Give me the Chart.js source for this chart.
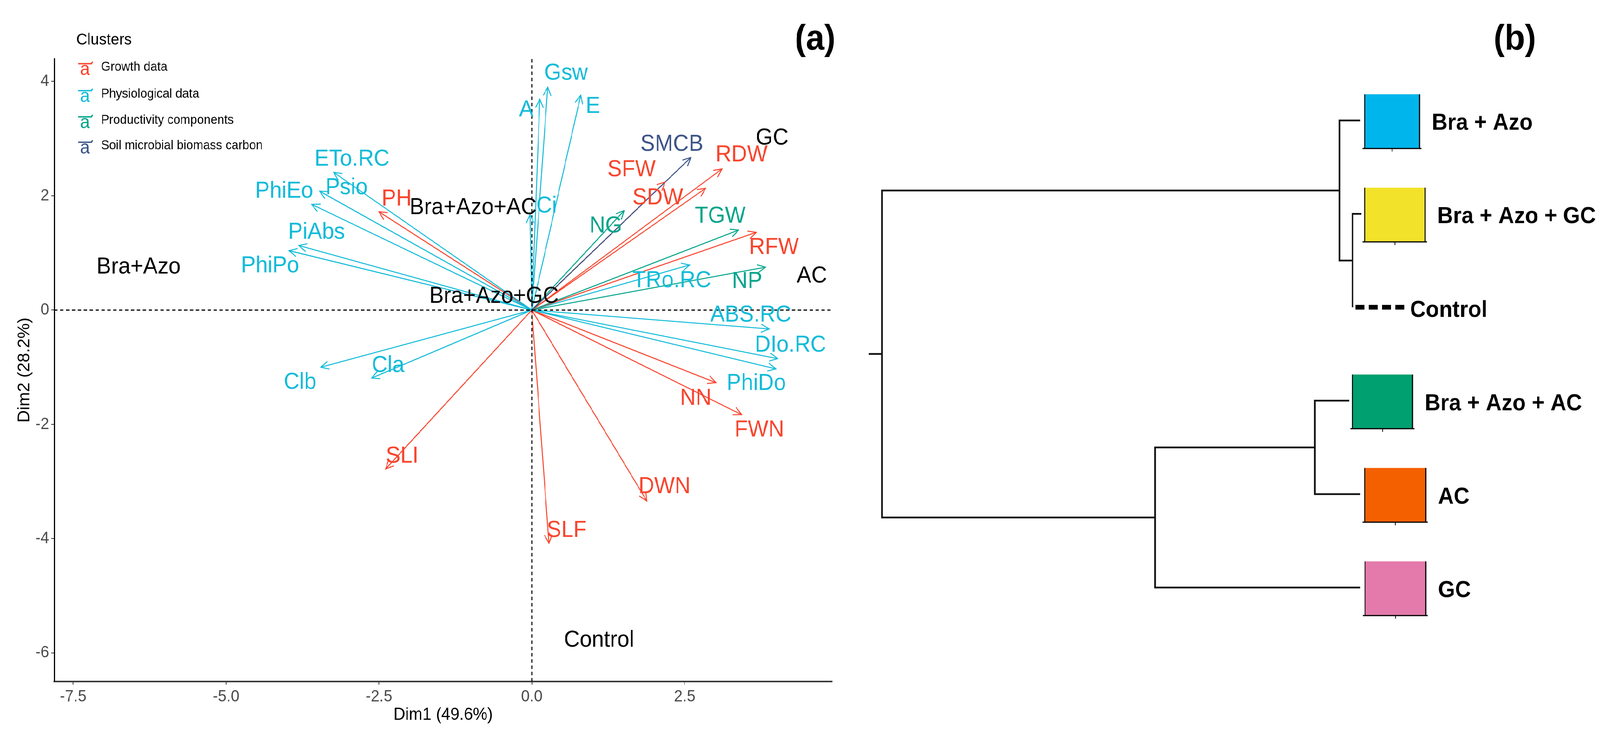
<!DOCTYPE html>
<html>
<head>
<meta charset="utf-8">
<script src="https://cdn.jsdelivr.net/npm/chart.js@4.4.1/dist/chart.umd.min.js"></script>
<style>
html,body{margin:0;padding:0;background:#fff;overflow:hidden}
#wrap{position:absolute;left:0;top:0;width:4338px;height:1886px;background:#fff;transform-origin:0 0}
canvas{position:absolute;top:0}
</style>
</head>
<body>
<div id="wrap">
<canvas id="ca" width="2300" height="1886" style="left:0;width:2300px;height:1886px"></canvas>
<canvas id="cb" width="2038" height="1886" style="left:2300px;width:2038px;height:1886px"></canvas>
</div>
<script>
// ---------------- DATA: panel (a) PCA biplot ----------------
const groupNames = ['Growth data', 'Physiological data', 'Productivity components', 'Soil microbial biomass carbon'];
const varNames = ['Gsw','A','E','Ci','SMCB','RDW','SFW','SDW','NG','TGW','RFW','NP','TRo.RC','ABS.RC','DIo.RC','PhiDo','NN','FWN','DWN','SLF','SLI','Cla','Clb','PhiPo','PiAbs','PhiEo','Psio','ETo.RC','PH'];
const varGroup = [1,1,1,1,3,0,0,0,2,2,0,2,1,1,1,1,0,0,0,0,0,1,1,1,1,1,1,1,0];
const dim1 = [0.26,0.13,0.80,-0.03,2.60,3.11,2.18,2.84,1.51,3.38,3.67,3.82,2.58,3.88,4.02,3.99,3.01,3.43,1.88,0.28,-2.39,-2.62,-3.45,-3.97,-3.81,-3.60,-3.47,-3.24,-2.50];
const dim2 = [3.90,3.69,3.76,1.67,2.67,2.47,2.24,2.13,1.74,1.40,1.36,0.75,0.79,-0.33,-0.85,-1.03,-1.27,-1.83,-3.34,-4.08,-2.78,-1.19,-1.00,1.04,1.13,1.85,2.08,2.41,1.72];
const labelDim1 = [0.56,-0.09,1.00,0.24,2.29,3.43,1.63,2.06,1.21,3.08,3.96,3.52,2.29,3.58,4.23,3.67,2.68,3.72,2.17,0.57,-2.12,-2.35,-3.79,-4.28,-3.52,-4.05,-3.03,-2.94,-2.21];
const labelDim2 = [4.14,3.50,3.56,1.82,2.90,2.71,2.45,1.96,1.47,1.64,1.09,0.50,0.51,-0.09,-0.62,-1.29,-1.55,-2.10,-3.09,-3.86,-2.56,-0.97,-1.27,0.77,1.36,2.08,2.14,2.64,1.94];
const indNames = ['Bra+Azo','Bra+Azo+AC','Bra+Azo+GC','GC','AC','Control'];
const indDim1 = [-6.43,-0.96,-0.62,3.93,4.58,1.10];
const indDim2 = [0.75,1.79,0.24,3.01,0.59,-5.78];
const xTicks = [-7.5,-5,-2.5,0,2.5];
const yTicks = [-6,-4,-2,0,2,4];
const xRange = [-7.81, 4.91];
const yRange = [-6.50, 4.40];

// ---------------- DATA: panel (b) dendrogram ----------------
const leafNames = ['Bra + Azo','Bra + Azo + GC','Control','Bra + Azo + AC','AC','GC'];
// hclust-style merges: negative = leaf (1-based), positive = earlier merge (1-based)
const mergeA = [-2,-1,-4,3,2];
const mergeB = [-3,1,-5,-6,4];
const mergeHeight = [0.21,0.56,1.23,5.56,12.97];

// ---------------- STYLE ----------------
const groupColors = ['#F8452E','#12BBD9','#00A48A','#3C5488'];
const leafBoxColor = ['#00B5EC','#F3E22A',null,'#00A070','#F46000','#E47AAB'];
const leafEnd = [0,-0.03,0.21,0.30,0,0];
const boxLeft = [-0.12,-0.12,null,0.21,-0.12,-0.13];
const boxRight = [-1.61,-1.76,null,-1.42,-1.78,-1.78];
const FONT = '"Liberation Sans", Arial, Helvetica, sans-serif';

Chart.defaults.font.family = FONT;

// fit the 4338x1886 layout into the actual viewport
(function fit() {
  const sx = window.innerWidth / 4338, sy = window.innerHeight / 1886;
  document.getElementById('wrap').style.transform = 'scale(' + sx + ',' + sy + ')';
})();

// ---------------- Panel (a) ----------------
const pcaDatasets = [];
pcaDatasets.push({data:[{x:xRange[0],y:0},{x:xRange[1],y:0}], borderColor:'#000', borderWidth:3, borderDash:[9,7]});
pcaDatasets.push({data:[{x:0,y:yRange[0]},{x:0,y:yRange[1]}], borderColor:'#000', borderWidth:3, borderDash:[9,7]});
for (let i = 0; i < varNames.length; i++) {
  pcaDatasets.push({label: varNames[i], data:[{x:0,y:0},{x:dim1[i],y:dim2[i]}], borderColor: groupColors[varGroup[i]], borderWidth:2.6});
}

const pcaDecor = {
  id: 'pcaDecor',
  afterDatasetsDraw(chart) {
    const {ctx, scales:{x, y}} = chart;
    ctx.save();
    const x0 = x.getPixelForValue(0), y0 = y.getPixelForValue(0);
    for (let i = 0; i < varNames.length; i++) {
      const x1 = x.getPixelForValue(dim1[i]), y1 = y.getPixelForValue(dim2[i]);
      const ang = Math.atan2(y1 - y0, x1 - x0);
      const L = 24, a = Math.PI / 7;
      ctx.strokeStyle = groupColors[varGroup[i]];
      ctx.lineWidth = 2.6;
      ctx.beginPath();
      ctx.moveTo(x1 - L * Math.cos(ang - a), y1 - L * Math.sin(ang - a));
      ctx.lineTo(x1, y1);
      ctx.lineTo(x1 - L * Math.cos(ang + a), y1 - L * Math.sin(ang + a));
      ctx.stroke();
    }
    ctx.font = '59px ' + FONT;
    ctx.textAlign = 'center';
    ctx.textBaseline = 'middle';
    for (let i = 0; i < varNames.length; i++) {
      ctx.fillStyle = groupColors[varGroup[i]];
      ctx.fillText(varNames[i], x.getPixelForValue(labelDim1[i]), y.getPixelForValue(labelDim2[i]));
    }
    ctx.fillStyle = '#000';
    for (let i = 0; i < indNames.length; i++) {
      ctx.fillText(indNames[i], x.getPixelForValue(indDim1[i]), y.getPixelForValue(indDim2[i]));
    }
    // legend
    ctx.textAlign = 'left';
    ctx.fillStyle = '#000';
    ctx.font = '41px ' + FONT;
    ctx.fillText('Clusters', 207, 103);
    const rows = [172, 241, 308, 373];
    for (let g = 0; g < groupNames.length; g++) {
      const ry = rows[g];
      ctx.fillStyle = groupColors[g];
      ctx.strokeStyle = groupColors[g];
      ctx.font = '48px ' + FONT;
      ctx.textAlign = 'center';
      ctx.textBaseline = 'alphabetic';
      ctx.fillText('a', 230, ry + 20);
      ctx.lineWidth = 3.5;
      ctx.beginPath();
      ctx.moveTo(212, ry - 9); ctx.lineTo(248, ry - 9); ctx.lineTo(251, ry - 14);
      ctx.stroke();
      ctx.fillStyle = '#000';
      ctx.font = '33px ' + FONT;
      ctx.textAlign = 'left';
      ctx.textBaseline = 'middle';
      ctx.fillText(groupNames[g], 274, ry);
    }
    ctx.font = 'bold 90px ' + FONT;
    ctx.textAlign = 'center';
    ctx.fillStyle = '#000';
    ctx.fillText('(a)', 2210, 102);
    ctx.restore();
  }
};

new Chart(document.getElementById('ca'), {
  type: 'scatter',
  data: {datasets: pcaDatasets},
  options: {
    responsive: false, devicePixelRatio: 1, animation: false,
    layout: {padding: {left: 0, right: 44, top: 150, bottom: 0}},
    datasets: {scatter: {showLine: true, pointRadius: 0, pointHoverRadius: 0, tension: 0}},
    plugins: {legend: {display: false}, tooltip: {enabled: false}},
    scales: {
      x: {
        type: 'linear', min: xRange[0], max: xRange[1], position: 'bottom',
        afterBuildTicks: s => { s.ticks = xTicks.map(v => ({value: v})); },
        afterFit: s => { s.height = 142; },
        ticks: {font: {size: 42}, color: '#4D4D4D', padding: 6, callback: v => v.toFixed(1)},
        grid: {display: true, drawOnChartArea: false, drawTicks: true, tickLength: 8, color: '#333', lineWidth: 2},
        border: {display: true, color: '#3a3a3a', width: 4},
        title: {display: true, text: 'Dim1 (49.6%)', color: '#000', font: {size: 44}, padding: {top: 0, bottom: 30}}
      },
      y: {
        type: 'linear', min: yRange[0], max: yRange[1], position: 'left',
        afterBuildTicks: s => { s.ticks = yTicks.map(v => ({value: v})); },
        afterFit: s => { s.width = 147; },
        ticks: {font: {size: 42}, color: '#4D4D4D', padding: 6, callback: v => String(v)},
        grid: {display: true, drawOnChartArea: false, drawTicks: true, tickLength: 8, color: '#333', lineWidth: 2},
        border: {display: true, color: '#000', width: 3},
        title: {display: true, text: 'Dim2 (28.2%)', color: '#000', font: {size: 44}, padding: {top: 40, bottom: 0}}
      }
    }
  },
  plugins: [pcaDecor]
});

// ---------------- Panel (b) ----------------
const mergeY = [];
function nodePos(ref) {
  if (ref < 0) return {y: -ref, h: leafEnd[-ref - 1]};
  return {y: mergeY[ref - 1], h: mergeHeight[ref - 1]};
}
const dendroDatasets = [];
for (let k = 0; k < mergeHeight.length; k++) {
  const pA = nodePos(mergeA[k]), pB = nodePos(mergeB[k]);
  const H = mergeHeight[k];
  mergeY[k] = (pA.y + pB.y) / 2;
  dendroDatasets.push({data: [{x: pA.h, y: pA.y}, {x: H, y: pA.y}, {x: H, y: pB.y}, {x: pB.h, y: pB.y}], borderColor: '#111', borderWidth: 4.5});
}
const rootY = mergeY[mergeY.length - 1];
const rootH = mergeHeight[mergeHeight.length - 1];
dendroDatasets.push({data: [{x: rootH, y: rootY}, {x: rootH + 0.36, y: rootY}], borderColor: '#111', borderWidth: 4.5});
// Control leaf drawn dotted
dendroDatasets.push({data: [{x: 0.13, y: 3}, {x: -1.20, y: 3}], borderColor: '#000', borderWidth: 12, borderDash: [24, 12], borderCapStyle: 'butt'});

const dendroDecor = {
  id: 'dendroDecor',
  afterDatasetsDraw(chart) {
    const {ctx, scales: {x, y}} = chart;
    ctx.save();
    for (let i = 0; i < leafNames.length; i++) {
      const leafIdx = i + 1;
      let textX;
      if (leafBoxColor[i]) {
        const l = x.getPixelForValue(boxLeft[i]), r = x.getPixelForValue(boxRight[i]);
        const t = y.getPixelForValue(leafIdx - 0.28), b = y.getPixelForValue(leafIdx + 0.30);
        ctx.fillStyle = leafBoxColor[i];
        ctx.fillRect(l, t, r - l, b - t);
        ctx.strokeStyle = '#000';
        ctx.lineWidth = 3;
        ctx.beginPath();
        ctx.moveTo(l, t); ctx.lineTo(l, b);
        ctx.moveTo(r, t); ctx.lineTo(r, b);
        ctx.moveTo(l - 6, b); ctx.lineTo(r + 5, b);
        ctx.stroke();
        ctx.lineWidth = 2;
        ctx.beginPath();
        ctx.moveTo((l + r) / 2, b); ctx.lineTo((l + r) / 2, b + 8);
        ctx.stroke();
        textX = r + 33;
      } else {
        textX = x.getPixelForValue(-1.20) + 15;
      }
      ctx.fillStyle = '#000';
      ctx.font = 'bold 59px ' + FONT;
      ctx.textAlign = 'left';
      ctx.textBaseline = 'middle';
      ctx.fillText(leafNames[i], textX, y.getPixelForValue(leafIdx) + 8);
    }
    ctx.font = 'bold 90px ' + FONT;
    ctx.textAlign = 'center';
    ctx.fillText('(b)', 4107 - 2300, 102);
    ctx.restore();
  }
};

new Chart(document.getElementById('cb'), {
  type: 'scatter',
  data: {datasets: dendroDatasets},
  options: {
    responsive: false, devicePixelRatio: 1, animation: false,
    layout: {padding: 0},
    datasets: {scatter: {showLine: true, pointRadius: 0, pointHoverRadius: 0, tension: 0}},
    plugins: {legend: {display: false}, tooltip: {enabled: false}},
    scales: {
      x: {type: 'linear', min: -6.50, max: 13.88, reverse: true, display: false},
      y: {type: 'linear', min: -0.289, max: 7.60, reverse: true, display: false}
    }
  },
  plugins: [dendroDecor]
});
</script>
</body>
</html>
